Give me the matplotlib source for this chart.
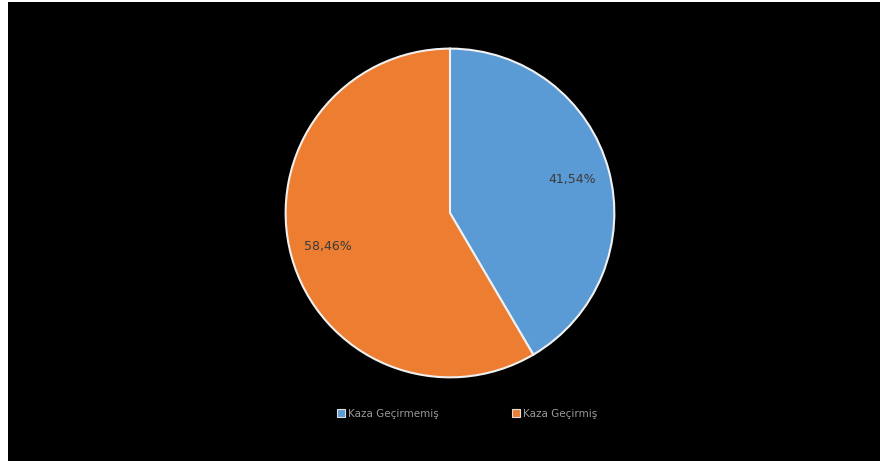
import matplotlib.pyplot as plt
from matplotlib.patches import Rectangle

# share of drivers with / without an accident
labels = ['Kaza Geçirmemiş', 'Kaza Geçirmiş']
values = [41.54, 58.46]
colors = ['#5B9BD5', '#ED7D31']

fig = plt.figure(figsize=(8.8, 4.61), dpi=100, facecolor='white')
# black panel, leaves a thin white strip on the left like the screenshot
fig.patches.append(Rectangle((8 / 880, 0), 1, 459 / 461, transform=fig.transFigure,
                             facecolor='black', edgecolor='none', zorder=-5))

ax = fig.add_axes([0.3227, 0.1779, 0.3773, 0.7202])
ax.set_facecolor('none')
ax.set_zorder(2)

wedges, texts, autotexts = ax.pie(
    values, colors=colors, startangle=90, counterclock=False,
    autopct=lambda p: f'{p:.2f}%'.replace('.', ','), pctdistance=0.77,
    wedgeprops=dict(edgecolor='#f0f0f0', linewidth=1.5),
    textprops=dict(color='#3a3a3a', fontsize=9))
ax.set_xlim(-1.01, 1.01)
ax.set_ylim(-1.01, 1.01)
ax.set_aspect('equal')
ax.axis('off')

leg = fig.legend(wedges, labels, loc='center', bbox_to_anchor=(0.531, 0.102), ncol=2,
                 frameon=False, fontsize=7.5, labelcolor='#9a9a9a', handlelength=0.8,
                 handleheight=0.8, handletextpad=0.3, columnspacing=7)
for h in leg.legend_handles:
    h.set_edgecolor('#dddddd')
    h.set_linewidth(0.8)

fig.savefig('out.png', dpi=100, facecolor=fig.get_facecolor())
